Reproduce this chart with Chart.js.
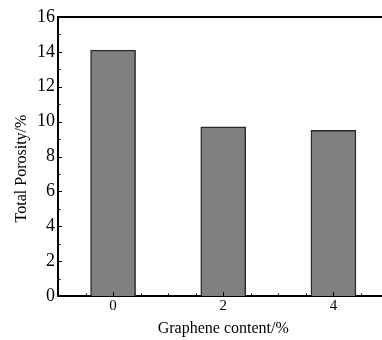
<!DOCTYPE html>
<html>
<head>
<meta charset="utf-8">
<script src="https://cdn.jsdelivr.net/npm/chart.js@4/dist/chart.umd.min.js"></script>
<style>
  html, body { margin: 0; padding: 0; background: #fff; }
  #wrap { width: 382px; height: 340px; overflow: hidden; }
</style>
</head>
<body>
<div id="wrap"><canvas id="porosity" width="390" height="340"></canvas></div>
<script>
var grapheneContent = [0, 2, 4];
var totalPorosity = [14.1, 9.7, 9.5];
var yTickValues = [0, 2, 4, 6, 8, 10, 12, 14, 16];
var xTickValues = [0, 2, 4];

var serif = "'Liberation Serif', 'Times New Roman', serif";

// inward tick marks plus the top frame line
var tickMarks = {
  id: 'tickMarks',
  afterDatasetsDraw: (chart) => {
    var ctx = chart.ctx;
    var area = chart.chartArea;
    var x = chart.scales.x;
    var y = chart.scales.y;
    ctx.save();
    ctx.strokeStyle = '#000';
    ctx.lineWidth = 2;
    ctx.beginPath();
    ctx.moveTo(area.left - 1, area.top);
    ctx.lineTo(area.right, area.top);
    ctx.stroke();

    ctx.lineWidth = 1;
    for(var v = 0; v <= 16; v++) {
      var py = Math.round(y.getPixelForValue(v)) + 0.5;
      var len = (v % 2 == 0) ? 4 : 2.5;
      ctx.beginPath();
      ctx.moveTo(area.left, py);
      ctx.lineTo(area.left + len, py);
      ctx.stroke();
    }
    for(var v = -0.5; v <= 4.5; v += 0.5) {
      var px = Math.round(x.getPixelForValue(v)) + 0.5;
      var len = xTickValues.indexOf(v) >= 0 ? 4 : 2.5;
      ctx.beginPath();
      ctx.moveTo(px, area.bottom);
      ctx.lineTo(px, area.bottom - len);
      ctx.stroke();
    }
    ctx.restore();
  }
};

var points = [];
for(var i = 0; i < grapheneContent.length; i++) {
  points.push({x: grapheneContent[i], y: totalPorosity[i]});
}

var chart = new Chart(document.getElementById('porosity'), {
  type: 'bar',
  data: {
    datasets: [{
      data: points,
      backgroundColor: '#808080',
      borderColor: '#2a2a2a',
      borderWidth: 1.5,
      barThickness: 45
    }]
  },
  options: {
    responsive: false,
    animation: false,
    layout: {padding: {left: 0, top: 17, right: 1.5, bottom: 0}},
    plugins: {legend: {display: false}, tooltip: {enabled: false}},
    scales: {
      x: {
        type: 'linear',
        min: -1,
        max: 5,
        offset: false,
        grid: {display: false, drawTicks: false, offset: false},
        border: {display: true, color: '#000', width: 2},
        afterBuildTicks: (scale) => {
          scale.ticks = xTickValues.map(v => ({value: v}));
        },
        afterFit: (scale) => { scale.height = 44; },
        ticks: {
          color: '#000',
          padding: 1,
          maxRotation: 0,
          font: {family: serif, size: 15}
        },
        title: {
          display: true,
          text: 'Graphene content/%',
          color: '#000',
          padding: {top: 0, bottom: 2},
          font: {family: serif, size: 16}
        }
      },
      y: {
        min: 0,
        max: 16,
        grid: {display: false, drawTicks: false},
        border: {display: true, color: '#000', width: 2},
        afterBuildTicks: (scale) => {
          scale.ticks = yTickValues.map(v => ({value: v}));
        },
        afterFit: (scale) => { scale.width = 58; },
        ticks: {
          color: '#000',
          padding: 3,
          font: {family: serif, size: 18}
        },
        title: {
          display: true,
          text: 'Total Porosity/%      ',
          color: '#000',
          padding: {top: 12, bottom: 0},
          font: {family: serif, size: 16}
        }
      }
    }
  },
  plugins: [tickMarks]
});
</script>
</body>
</html>
